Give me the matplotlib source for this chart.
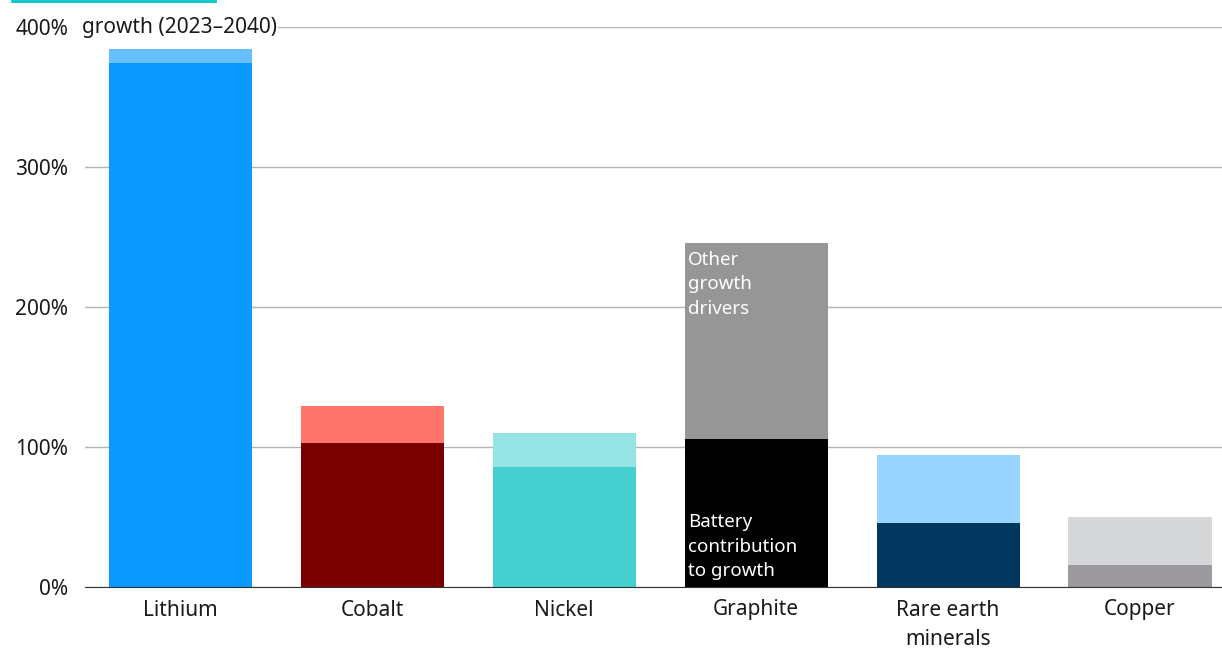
import numpy as np
import matplotlib.pyplot as plt
from matplotlib.lines import Line2D

plt.rcParams['font.family'] = ['Noto Sans', 'DejaVu Sans']

minerals = ['Lithium', 'Cobalt', 'Nickel', 'Graphite', 'Rare earth\nminerals', 'Copper']
battery = [374, 103, 86, 106, 46, 16]
total = [384, 129, 110, 246, 94, 50]
other = [t - b for t, b in zip(total, battery)]

base_colors = ['#0a99ff', '#7a0000', '#45cfcf', '#000000', '#02385f', '#9c9a9e']
top_colors = ['#66bfff', '#ff756b', '#96e3e3', '#969696', '#99d4ff', '#d6d7d9']

fig = plt.figure(figsize=(12.22, 6.48), dpi=100)
ax = fig.add_axes([85 / 1222, 1 - 587 / 648, 1 - 85 / 1222, (587 - 27) / 648])

x = np.arange(len(minerals))
width = 0.745
ax.bar(x, battery, width, color=base_colors, zorder=3)
ax.bar(x, other, width, bottom=battery, color=top_colors, zorder=3)

ax.set_xlim(-0.495, 5.427)
ax.set_ylim(0, 400)
ax.set_yticks([0, 100, 200, 300, 400])
ax.set_yticklabels(['0%', '100%', '200%', '300%', '400%'])
ax.set_xticks(x)
ax.set_xticklabels(minerals, linespacing=1.55)
ax.tick_params(axis='both', length=0, labelsize=15, colors='#1a1a1a')
ax.tick_params(axis='y', pad=12)
ax.tick_params(axis='x', pad=9)
ax.grid(axis='y', color='#b4b4b4', linewidth=1, zorder=0)
for s in ['top', 'right', 'left']:
    ax.spines[s].set_visible(False)
ax.spines['bottom'].set_color('#333333')
ax.spines['bottom'].set_zorder(4)

# labels inside the graphite bar
gx = 3 - width / 2 + 0.02
ax.text(gx, 240, 'Other\ngrowth\ndrivers', color='white', fontsize=13.5,
        va='top', ha='left', linespacing=1.45, zorder=5)
ax.text(gx, 5, 'Battery\ncontribution\nto growth', color='white', fontsize=13.5,
        va='bottom', ha='left', linespacing=1.45, zorder=5)

# clipped title remnant at top
fig.text(82 / 1222, 1 - 27 / 648, 'growth (2023\u20132040)', fontsize=15,
         color='#1a1a1a', va='center', ha='left',
         bbox=dict(facecolor='white', edgecolor='none', pad=1))
fig.add_artist(Line2D([12 / 1222, 215 / 1222], [1 - 1 / 648, 1 - 1 / 648],
                      color='#00c8c8', linewidth=2))

fig.savefig('out.png', dpi=100)
